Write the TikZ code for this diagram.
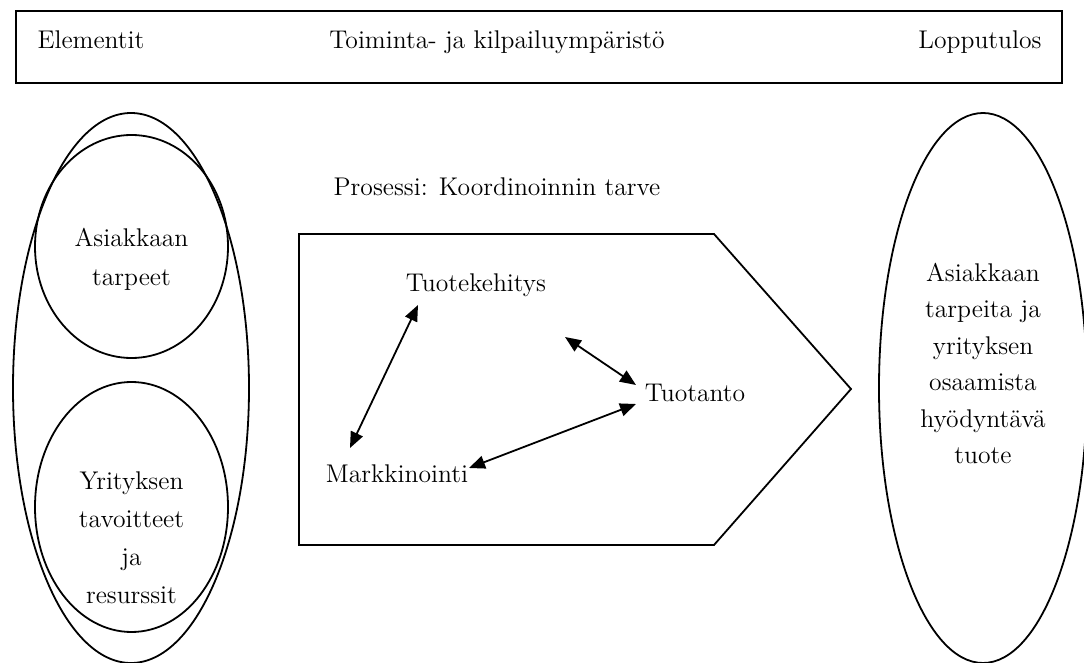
\documentclass[tikz,border=0pt]{standalone}
\usetikzlibrary{shapes.geometric,arrows.meta}
\begin{document}
\begin{tikzpicture}[x=0.5pt,y=-0.5pt,
  line width=0.9pt,
  lbl/.style={inner sep=0pt,text height=8.5pt,text depth=3pt,font=\fontsize{12.8}{15}\selectfont},
  oval/.style={draw,ellipse,inner sep=0pt},
  link/.style={{Triangle[length=8pt,width=6.5pt]}-{Triangle[length=8pt,width=6.5pt]}}]
\useasboundingbox (0,0) rectangle (1084,663);

% header bar
\node[draw,rectangle,minimum width=523pt,minimum height=36pt,inner sep=0pt] (bar) at (539,47) {};
\node[lbl] (elem) at (91,43) {Elementit};
\node[lbl] (env) at (497,43) {Toiminta- ja kilpailuympäristö};
\node[lbl] (res) at (980,43) {Lopputulos};

% elements on the left
\node[oval,minimum width=118pt,minimum height=275pt] (outer) at (131,388) {};
\node[oval,minimum width=96.5pt,minimum height=111.5pt] (needs) at (131.5,246.5) {};
\node[oval,minimum width=96.5pt,minimum height=125pt] (goals) at (131.5,507) {};
\node[lbl] (n1) at (131.5,241) {Asiakkaan};
\node[lbl] (n2) at (131.5,280) {tarpeet};
\node[lbl] (g1) at (131.5,484) {Yrityksen};
\node[lbl] (g2) at (131.5,522) {tavoitteet};
\node[lbl] (g3) at (131.5,560) {ja};
\node[lbl] (g4) at (131.5,598) {resurssit};

% process arrow shape
\node[lbl] (proc) at (497,190) {Prosessi: Koordinoinnin tarve};
\coordinate (p1) at (299,234);
\coordinate (p2) at (714,234);
\coordinate (p3) at (851,389);
\coordinate (p4) at (714,545);
\coordinate (p5) at (299,545);
\draw (p1) -- (p2) -- (p3) -- (p4) -- (p5) -- cycle;

\node[lbl] (tk) at (476,286) {Tuotekehitys};
\node[lbl] (tt) at (695,396) {Tuotanto};
\node[lbl] (mk) at (397,477) {Markkinointi};

\draw[link] ([shift={(-58,19)}]tk.center) -- ([shift={(-47,-29)}]mk.center);
\draw[link] ([shift={(89,51)}]tk.center) -- ([shift={(-59,-11)}]tt.center);
\draw[link] ([shift={(72,-9)}]mk.center) -- ([shift={(-59,8)}]tt.center);

% result on the right
\node[oval,minimum width=104pt,minimum height=275pt] (prod) at (983,388) {};
\node[lbl] (r1) at (983,276) {Asiakkaan};
\node[lbl] (r2) at (983,312.5) {tarpeita ja};
\node[lbl] (r3) at (983,349) {yrityksen};
\node[lbl] (r4) at (983,385.5) {osaamista};
\node[lbl] (r5) at (983,422) {hyödyntävä};
\node[lbl] (r6) at (983,458.5) {tuote};
\end{tikzpicture}
\end{document}
